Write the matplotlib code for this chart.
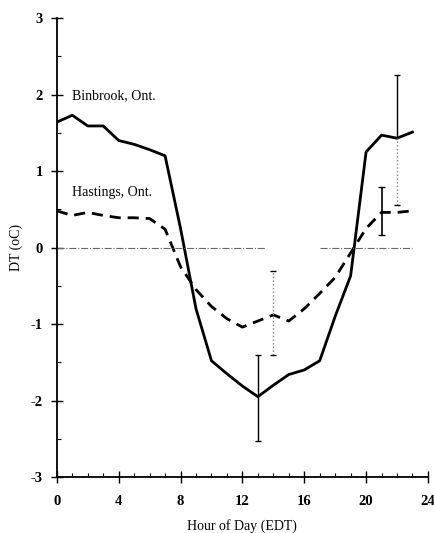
import numpy as np
import matplotlib.pyplot as plt
from matplotlib.ticker import MultipleLocator

plt.rcParams['font.family'] = ['Liberation Serif', 'DejaVu Serif']
plt.rcParams['axes.unicode_minus'] = False

# hourly temperature differences
hours = list(range(24))
binbrook = [1.64, 1.73, 1.59, 1.59, 1.40, 1.35, 1.28, 1.20, 0.25, -0.80,
            -1.48, -1.65, -1.81, -1.95, -1.80, -1.66, -1.60, -1.48, -0.90, -0.37,
            1.25, 1.47, 1.43, 1.51]
hastings = [0.48, 0.42, 0.46, 0.42, 0.39, 0.39, 0.38, 0.24, -0.25, -0.55,
            -0.77, -0.93, -1.04, -0.96, -0.88, -0.96, -0.80, -0.60, -0.39, -0.07,
            0.25, 0.46, 0.46, 0.48]
# error bars (hour, low, high)
bin_err = [(13, -2.53, -1.40), (22, 0.56, 2.25)]
has_err = [(14, -1.40, -0.31), (21, 0.16, 0.79)]

fig = plt.figure(figsize=(4.34, 5.33), dpi=100)
ax = fig.add_axes([0.131, 0.105, 0.855, 0.861])

ax.plot(hours, binbrook, color='black', lw=2)
ax.plot(hours, hastings, color='black', lw=2, ls=(0, (4, 2.5)))

# error bars
h, lo, hi = bin_err[0]
ax.vlines(h, lo, hi, color='black', lw=1)
ax.hlines([lo, hi], h - 0.2, h + 0.2, color='black', lw=1)
h, lo, hi = bin_err[1]
ax.vlines(h, binbrook[h], hi, color='black', lw=1)
ax.vlines(h, lo, binbrook[h], color='gray', lw=1, ls=':')
ax.hlines([lo, hi], h - 0.2, h + 0.2, color='black', lw=1)
h, lo, hi = has_err[0]
ax.vlines(h, lo, hi, color='gray', lw=1, ls=':')
ax.hlines([lo, hi], h - 0.2, h + 0.2, color='black', lw=1)
h, lo, hi = has_err[1]
ax.vlines(h, lo, hi, color='black', lw=1.2)
ax.hlines([lo, hi], h - 0.2, h + 0.2, color='black', lw=1)

# dash-dot zero line with a gap
ax.hlines(0, 0, 13.5, color='dimgray', lw=0.8, ls='-.')
ax.hlines(0, 17.0, 23.0, color='dimgray', lw=0.8, ls='-.')

ax.text(1, 1.98, 'Binbrook, Ont.', fontsize=10, va='center')
ax.text(1, 0.72, 'Hastings, Ont.', fontsize=10, va='center')

ax.set_xlim(0, 24)
ax.set_ylim(-3, 3)
ax.xaxis.set_major_locator(MultipleLocator(4))
ax.xaxis.set_minor_locator(MultipleLocator(1))
ax.yaxis.set_major_locator(MultipleLocator(1))
ax.yaxis.set_minor_locator(MultipleLocator(0.5))
ax.tick_params(which='major', direction='inout', length=8, width=1, labelsize=10.5)
ax.tick_params(which='minor', direction='in', length=3, width=0.8)
for lab in ax.get_xticklabels() + ax.get_yticklabels():
    lab.set_fontweight('bold')
ax.tick_params(axis='x', pad=9)
ax.tick_params(axis='y', pad=6)

ax.spines['top'].set_visible(False)
ax.spines['right'].set_visible(False)
ax.spines['left'].set_linewidth(1.3)
ax.spines['bottom'].set_linewidth(1.3)

ax.set_xlabel('Hour of Day (EDT)', fontsize=10, labelpad=8)
ax.set_ylabel('DT (oC)', fontsize=10, labelpad=6)

fig.savefig('out.png', dpi=100)
